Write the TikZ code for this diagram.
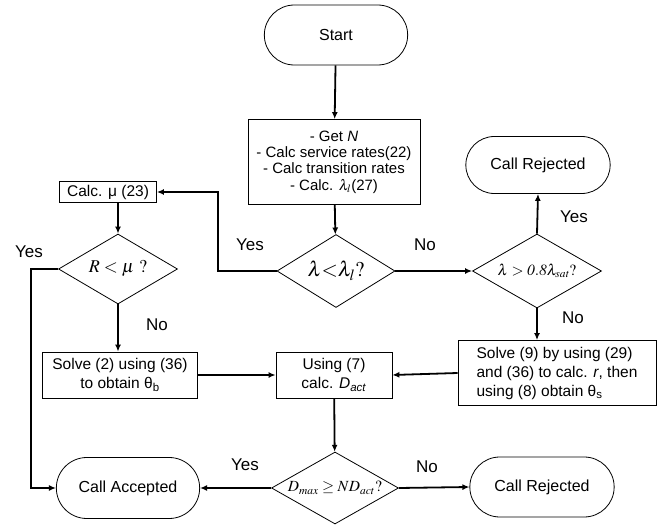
\documentclass[tikz,border=0pt]{standalone}
\usepackage{mathptmx}
\usepackage[no-math]{fontspec}
\setmainfont{Liberation Sans}
\usepackage{tikz}
\usetikzlibrary{arrows,arrows.meta,shapes.geometric,shapes.misc,calc}

\begin{document}
\begin{tikzpicture}[x=1pt,y=-1pt,>={Latex[length=7pt,width=6pt]},
        term/.style={rounded rectangle, draw, line width=0.8pt, minimum width=150pt, minimum height=60pt, font=\fontsize{16}{18}\selectfont},
        proc/.style={rectangle, draw, line width=0.8pt, align=center, inner sep=2pt, font=\fontsize{15.5}{19}\selectfont},
        dec/.style={diamond, draw, line width=0.8pt, aspect=1.7, inner sep=0pt},
        flow/.style={->, line width=1.8pt},
        lbl/.style={font=\fontsize{17}{19}\selectfont}]
            \useasboundingbox (0,0) rectangle (657,527);
            \node[term] (Start) at (336,35) {Start};
            \node[proc, minimum width=172pt, minimum height=85pt, font=\fontsize{15}{16.3}\selectfont] (Get0) at (334,162) {- Get \textit{N}\\- Calc service rates(22)\\- Calc transition rates\\- Calc. $\smash{\lambda_l}$(27)};
            \node[dec, minimum width=118pt, minimum height=73pt] (Dec0) at (336,271) {\fontsize{21}{23}\selectfont$\lambda{<}\lambda_l?$};
            \node[proc, minimum width=97pt, minimum height=21pt] (Calc0) at (108,192) {Calc. μ (23)};
            \node[dec, minimum width=119pt, minimum height=70pt] (Dec1) at (118,269) {\fontsize{18}{20}\selectfont$R < \mu\ ?$};
            \node[term, minimum width=151pt, minimum height=57pt] (Rej0) at (538,165) {Call Rejected};
            \node[dec, minimum width=129pt, minimum height=74pt] (Dec2) at (537,271) {\fontsize{15.5}{17}\selectfont$\lambda > \mathit{0.8}\lambda_{\mathit{sat}}?$};
            \node[proc, minimum width=155pt, minimum height=46pt] (Solve0) at (120,375) {Solve (2) using (36)\\to obtain θ\textsubscript{b}};
            \node[proc, minimum width=116pt, minimum height=46pt] (Using0) at (334,375) {Using (7)\\calc. \textit{D}\textsubscript{\textit{act}}};
            \node[proc, minimum width=198pt, minimum height=65pt, align=left] (Solve1) at (557,373) {Solve (9) by using (29)\\and (36) to calc. \textit{r}, then\\using (8) obtain θ\textsubscript{s}};
            \node[dec, minimum width=127pt, minimum height=72pt] (Dec3) at (335,488) {\fontsize{15.5}{17}\selectfont$D_{max}\geq ND_{act}?$};
            \node[term, minimum width=150pt, minimum height=61pt] (Acc0) at (128,488) {Call Accepted};
            \node[term, minimum width=151pt, minimum height=60pt] (Rej1) at (542,487) {Call Rejected};
            \node[lbl] (Yes0) at (250,245) {Yes};
            \node[lbl] (No0) at (425,245) {No};
            \node[lbl] (Yes1) at (29,252) {Yes};
            \node[lbl] (No1) at (157,325) {No};
            \node[lbl] (Yes2) at (574,217) {Yes};
            \node[lbl] (No2) at (573,318) {No};
            \node[lbl] (Yes3) at (245,465) {Yes};
            \node[lbl] (No3) at (427,467) {No};
            \draw[flow] (Start) -- (Get0);
            \draw[flow] (Get0) -- (Dec0);
            \draw[flow] (Dec0.west) -- ++(-59,0) |- (Calc0.east);
            \draw[flow] (Calc0.south -| Dec1.north) -- (Dec1.north);
            \draw[flow] (Dec1.west) -- ++(-27,0) |- (Acc0.west);
            \draw[flow] (Dec1.south) -- (Dec1.south |- Solve0.north);
            \draw[flow] (Dec0.east) -- (Dec2.west);
            \draw[flow] (Dec2.north) -- (Rej0.south);
            \draw[flow] (Dec2.south) -- (Dec2.south |- Solve1.north);
            \draw[flow] (Solve1.west) -- (Using0.east);
            \draw[flow] (Solve0.east) -- (Using0.west);
            \draw[flow] (Using0) -- (Dec3);
            \draw[flow] (Dec3.west) -- (Acc0.east);
            \draw[flow] (Dec3.east) -- (Rej1.west);
        \end{tikzpicture}
\end{document}
